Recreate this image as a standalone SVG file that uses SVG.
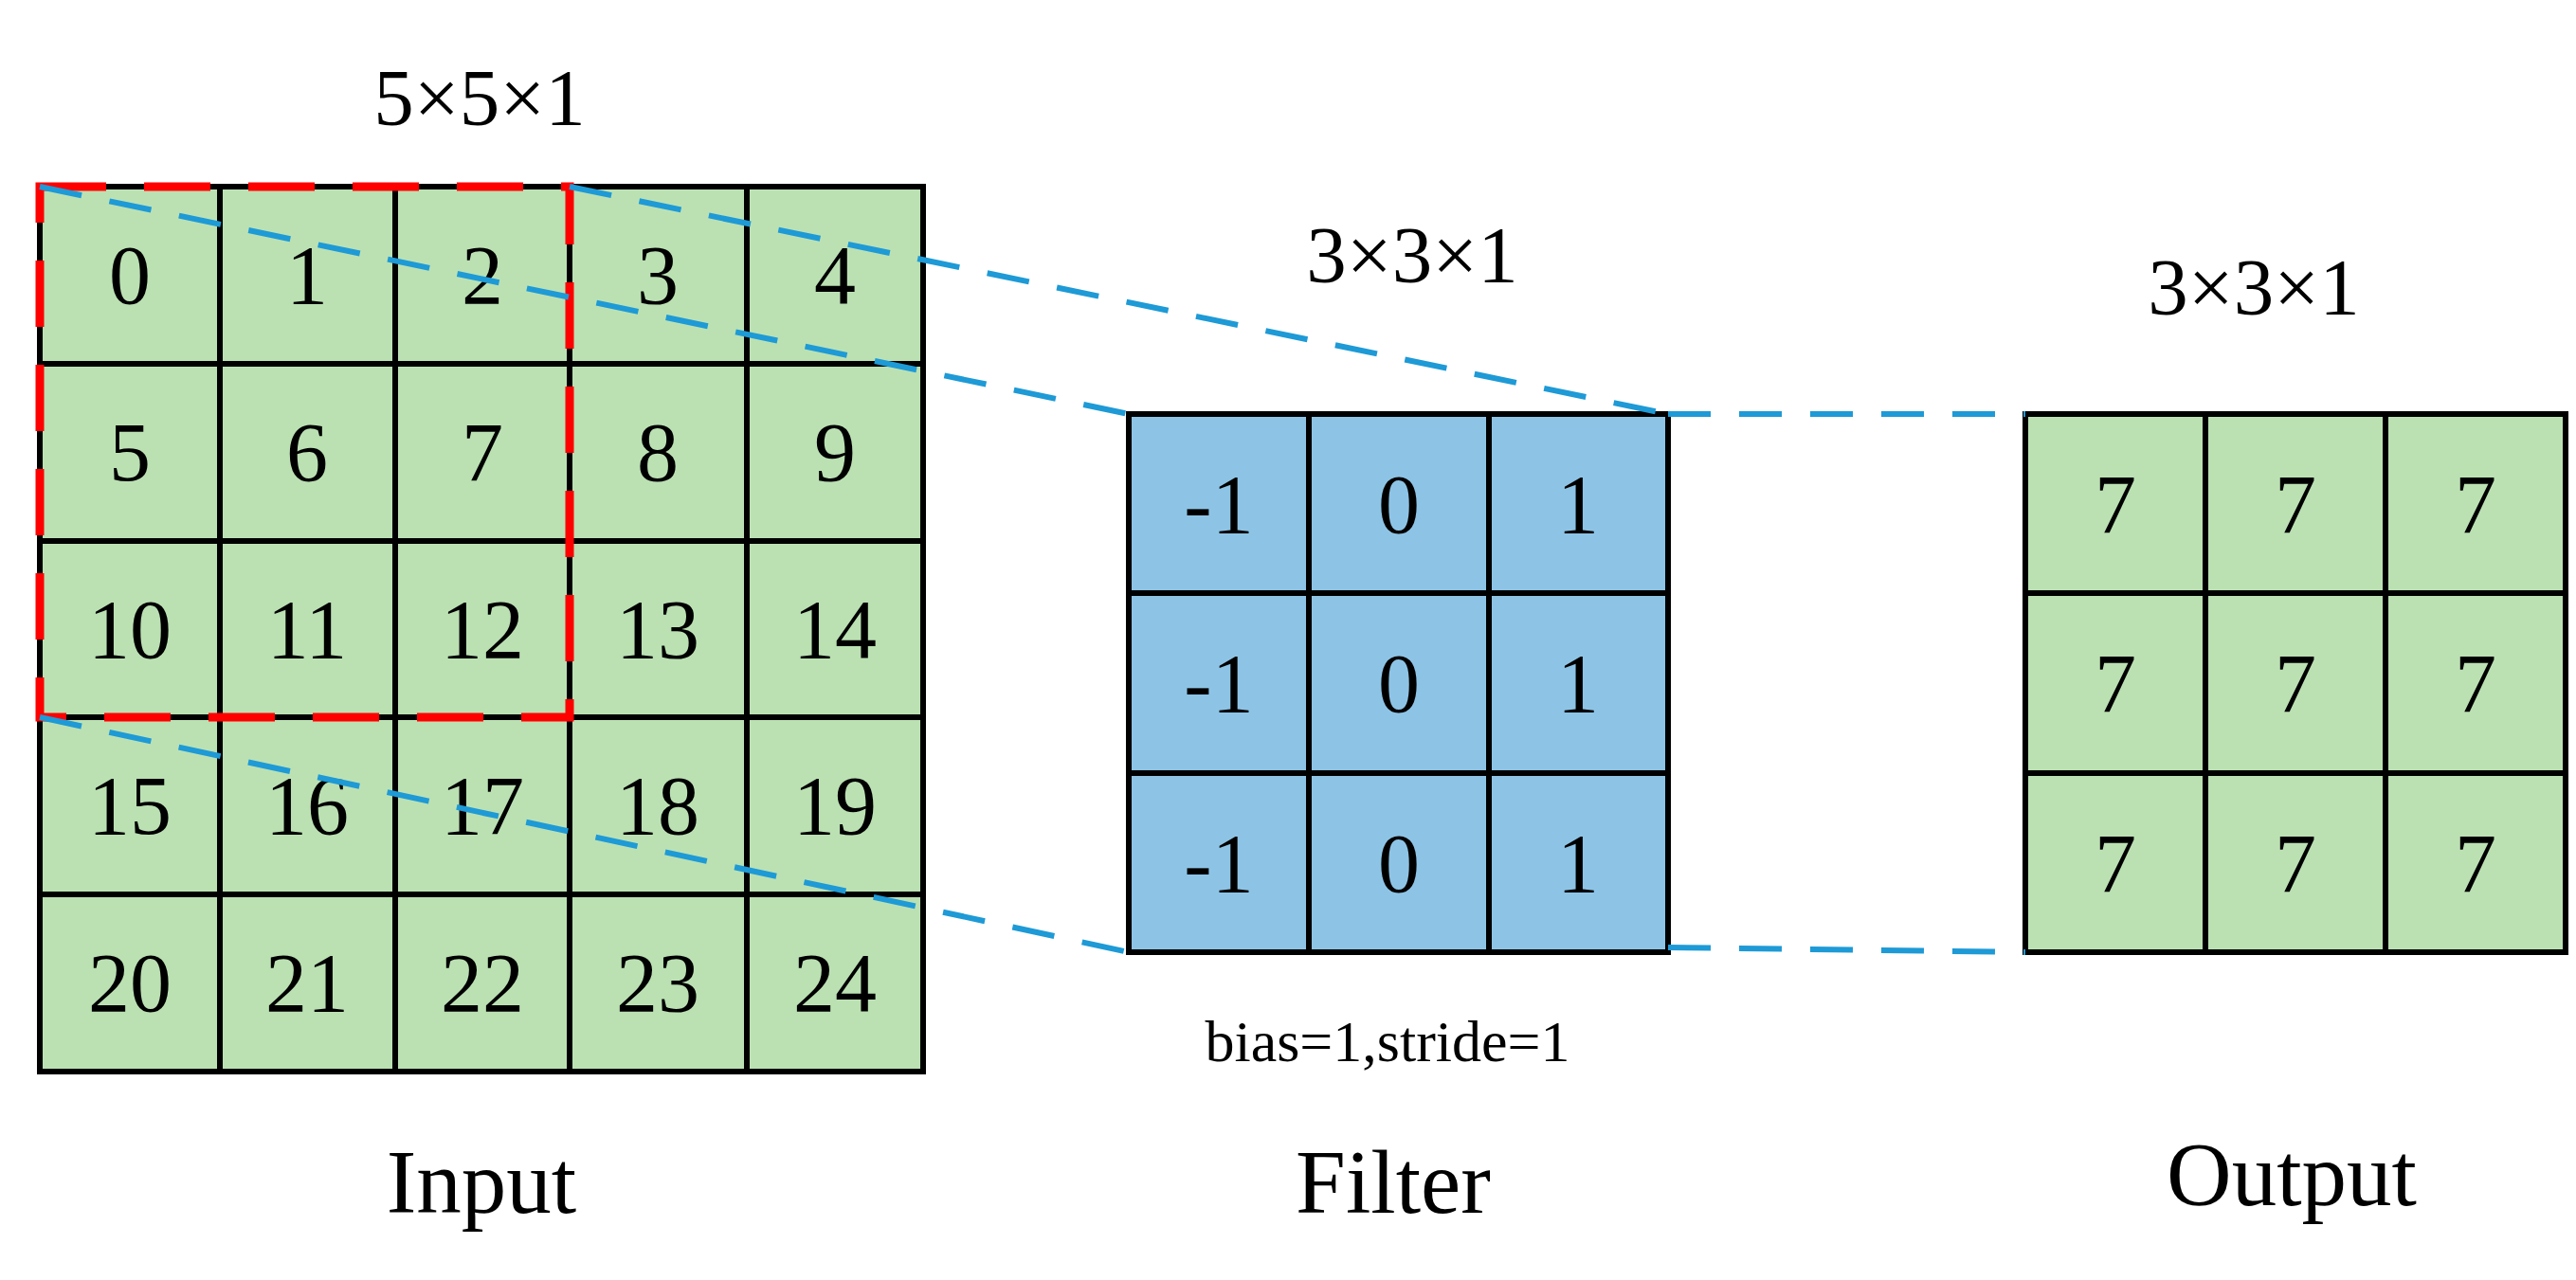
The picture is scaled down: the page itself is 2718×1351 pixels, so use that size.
<svg xmlns="http://www.w3.org/2000/svg" width="2718" height="1351" viewBox="0 0 2718 1351">
<style>
.g{fill:#bbe1b3;stroke:#000;stroke-width:6}
.b{fill:#8dc4e6;stroke:#000;stroke-width:6}
.t{font-family:"Liberation Serif",serif;text-anchor:middle;fill:#000}
.n{font-size:88px;dominant-baseline:central}
.bl{fill:none;stroke:#1e9ad6;stroke-width:6;stroke-dasharray:45 30}
</style>
<rect width="2718" height="1351" fill="#fff"/>
<g id="input">
<g class="g">
<rect x="42" y="197" width="932" height="934"/>
<path d="M232 197V1131M417 197V1131M601 197V1131M788 197V1131M42 384H974M42 571H974M42 757H974M42 944H974" fill="none"/>
</g>
<g class="t n">
<text x="137" y="290">0</text><text x="324" y="290">1</text><text x="509" y="290">2</text><text x="694" y="290">3</text><text x="881" y="290">4</text>
<text x="137" y="477">5</text><text x="324" y="477">6</text><text x="509" y="477">7</text><text x="694" y="477">8</text><text x="881" y="477">9</text>
<text x="137" y="664">10</text><text x="324" y="664">11</text><text x="509" y="664">12</text><text x="694" y="664">13</text><text x="881" y="664">14</text>
<text x="137" y="850">15</text><text x="324" y="850">16</text><text x="509" y="850">17</text><text x="694" y="850">18</text><text x="881" y="850">19</text>
<text x="137" y="1037">20</text><text x="324" y="1037">21</text><text x="509" y="1037">22</text><text x="694" y="1037">23</text><text x="881" y="1037">24</text>
</g>
<text class="t" x="506" y="132" font-size="85">5×5×1</text>
<text class="t" x="508" y="1280" font-size="95">Input</text>
</g>
<g id="filter">
<g class="b">
<rect x="1191" y="437" width="569" height="568"/>
<path d="M1381 437V1005M1571 437V1005M1191 626H1760M1191 816H1760" fill="none"/>
</g>
<g class="t n">
<text x="1286" y="532">-1</text><text x="1476" y="532">0</text><text x="1665" y="532">1</text>
<text x="1286" y="721">-1</text><text x="1476" y="721">0</text><text x="1665" y="721">1</text>
<text x="1286" y="911">-1</text><text x="1476" y="911">0</text><text x="1665" y="911">1</text>
</g>
<text class="t" x="1490" y="298" font-size="85">3×3×1</text>
<text class="t" x="1464" y="1120" font-size="62">bias=1,stride=1</text>
<text class="t" x="1470" y="1280" font-size="95">Filter</text>
</g>
<g id="output">
<g class="g">
<rect x="2137" y="437" width="570" height="568"/>
<path d="M2327 437V1005M2517 437V1005M2137 626H2707M2137 816H2707" fill="none"/>
</g>
<g class="t n">
<text x="2232" y="532">7</text><text x="2422" y="532">7</text><text x="2612" y="532">7</text>
<text x="2232" y="721">7</text><text x="2422" y="721">7</text><text x="2612" y="721">7</text>
<text x="2232" y="911">7</text><text x="2422" y="911">7</text><text x="2612" y="911">7</text>
</g>
<text class="t" x="2378" y="332" font-size="85">3×3×1</text>
<text class="t" x="2418" y="1272" font-size="95">Output</text>
</g>
<g id="connectors">
<rect x="42" y="197" width="559" height="560" fill="none" stroke="#f00" stroke-width="9" stroke-dasharray="70 40"/>
<path class="bl" d="M42 197L1191 437M601 197L1760 437M42 757L1191 1005M1760 437H2137M1760 1000L2137 1005"/>
</g>
</svg>
